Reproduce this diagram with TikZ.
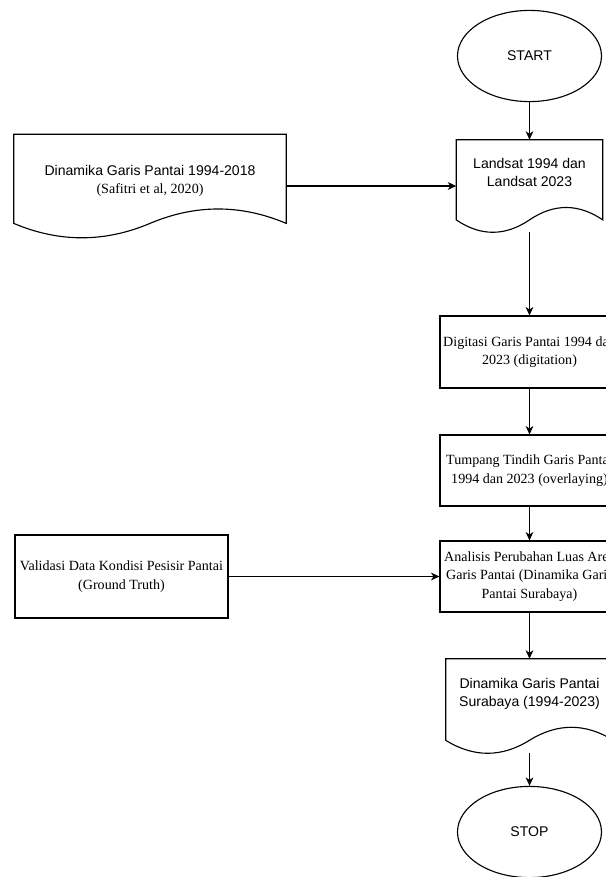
\documentclass[tikz,border=0pt]{standalone}
\usepackage{fontspec}
\setmainfont{Liberation Serif}
\setsansfont{Liberation Sans}
\usepackage{tikz}
\usetikzlibrary{arrows.meta,shapes,calc}

\newcommand{\docoutline}[2]{%
  \draw[flow] (#1.north west) -- (#1.north east) -- ($(#1.south east)+(0,#2)$)
    .. controls ($(#1.south east)!1/3!(#1.south)+(0,7*#2/3)$) and ($(#1.south east)!2/3!(#1.south)+(0,7*#2/3)$) .. ($(#1.south)+(0,#2)$)
    .. controls ($(#1.south)!1/3!(#1.south west)+(0,-#2/3)$) and ($(#1.south)!2/3!(#1.south west)+(0,-#2/3)$) .. ($(#1.south west)+(0,#2)$) -- cycle;}

\begin{document}
\fontsize{10}{13}\selectfont
\begin{tikzpicture}[scale=1.0,transform shape,
    flow/.style={line width=0.8pt},
    arr/.style={flow,-{Stealth[length=6pt,width=5.5pt,inset=1.8pt]}},
    proc/.style={rectangle,draw,flow,align=center,inner sep=2pt},
    term/.style={ellipse,draw,flow,minimum width=3.6cm,minimum height=2.28cm,font=\sffamily},
    doc/.style={rectangle,align=center,inner sep=0pt}]
      \path[use as bounding box] (0,0) rectangle (15.15,-21.925);
      \clip (0,0) rectangle (15.15,-21.925);
      \node[term] at (13.2375,-1.4) (start) {START};
      \node[doc,minimum width=3.65cm,minimum height=2.3cm,text depth=0.68cm,font=\sffamily] at (13.2375,-4.65) (landsat) {Landsat 1994 dan\\Landsat 2023};
      \node[doc,minimum width=6.8cm,minimum height=2.575cm,text depth=0.32cm] at (3.75,-4.65) (garis) {{\sffamily Dinamika Garis Pantai 1994-2018}\\(Safitri et al, 2020)};
      \node[proc,minimum width=4.475cm,minimum height=1.8cm] at (13.2375,-8.8) (digitasi) {Digitasi Garis Pantai 1994 dan\\2023 (digitation)};
      \node[proc,minimum width=4.475cm,minimum height=1.775cm] at (13.2375,-11.7625) (tumpang) {Tumpang Tindih Garis Pantai\\1994 dan 2023 (overlaying)};
      \node[proc,minimum width=4.475cm,minimum height=1.775cm] at (13.2375,-14.4125) (analisis) {Analisis Perubahan Luas Area\\Garis Pantai (Dinamika Garis\\Pantai Surabaya)};
      \node[proc,minimum width=5.325cm,minimum height=2.075cm] at (3.0375,-14.4125) (validasi) {Validasi Data Kondisi Pesisir Pantai\\(Ground Truth)};
      \node[doc,minimum width=4.175cm,minimum height=2.35cm,text depth=0.68cm,font=\sffamily] at (13.2375,-17.65) (hasil) {Dinamika Garis Pantai\\Surabaya (1994-2023)};
      \node[term] at (13.2375,-20.8) (stop) {STOP};
      \docoutline{landsat}{0.31}
      \docoutline{garis}{0.36}
      \docoutline{hasil}{0.325}
      \draw[arr] (start) -- (landsat);
      \draw[arr] (garis) -- (landsat);
      \draw[arr] (landsat) -- (digitasi);
      \draw[arr] (digitasi) -- (tumpang);
      \draw[arr] (tumpang) -- (analisis);
      \draw[arr] (validasi) -- (analisis);
      \draw[arr] (analisis) -- (hasil);
      \draw[arr] (hasil) -- (stop);
\end{tikzpicture}
\end{document}
